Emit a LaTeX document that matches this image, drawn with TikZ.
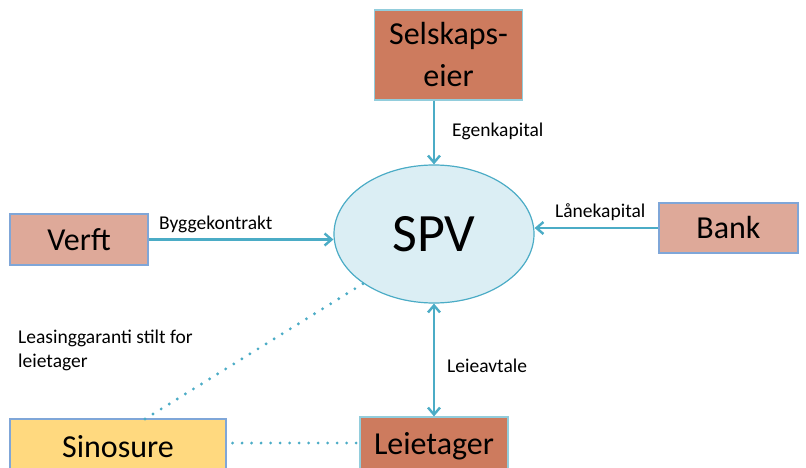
\documentclass[tikz,border=0pt]{standalone}
\usepackage{fontspec}
\setmainfont{Carlito}
\usetikzlibrary{arrows.meta,shapes.geometric}
\definecolor{terra}{HTML}{CD7B5E}
\definecolor{pinkb}{HTML}{DEA999}
\definecolor{yel}{HTML}{FFD97F}
\definecolor{lblue}{HTML}{92CDDC}
\definecolor{bblue}{HTML}{7FA6D8}
\definecolor{efill}{HTML}{DBEEF4}
\definecolor{teal}{HTML}{4BACC6}
\tikzset{
  boxA/.style={draw=lblue, line width=1.2pt, fill=terra, inner sep=0pt, font=\fontsize{32}{42}\selectfont, align=center},
  boxB/.style={draw=bblue, line width=1.2pt, fill=pinkb, inner sep=0pt, font=\fontsize{32}{38}\selectfont},
  boxC/.style={draw=bblue, line width=1.2pt, fill=yel, inner sep=0pt, font=\fontsize{32}{38}\selectfont},
  conn/.style={draw=teal, line width=2.4pt, -{Straight Barb[length=7pt,width=12pt,line width=2.4pt]}},
  dconn/.style={draw=teal, line width=2.4pt, {Straight Barb[length=7pt,width=12pt,line width=2.4pt]}-{Straight Barb[length=7pt,width=12pt,line width=2.4pt]}},
  dots/.style={draw=teal, line width=3.2pt, line cap=round, dash pattern=on 0pt off 9.5pt},
  lbl/.style={font=\fontsize{19.5}{24}\selectfont, inner sep=0pt, anchor=west, align=left}
}
\begin{document}
\begin{tikzpicture}[x=1pt,y=-1pt]
\clip (0,0) rectangle (806,468);
\fill[white] (0,0) rectangle (806,468);
\node[boxA, minimum width=148pt, minimum height=90pt] (sel) at (448.5,55) {Selskaps-\\eier};
\node[draw=teal, line width=1.2pt, fill=efill, ellipse, minimum width=200pt, minimum height=138pt, inner sep=0pt, font=\fontsize{54}{60}\selectfont] (spv) at (434,234) {SPV};
\node[boxB, minimum width=138pt, minimum height=51pt] (verft) at (79,239.5) {Verft};
\node[boxB, minimum width=139pt, minimum height=50pt] (bank) at (728.5,228) {Bank};
\node[boxC, minimum width=216pt, minimum height=56pt] (sino) at (118,447) {Sinosure};
\node[boxA, minimum width=148pt, minimum height=58pt] (leie) at (434,446) {Leietager};
\coordinate (sinotop) at (145,419);
\draw[conn] (sel.south -| spv.center) -- (spv.north);
\draw[conn] (verft.east) -- (verft.east -| spv.west);
\draw[conn] (bank.west) -- (bank.west -| spv.east);
\draw[dconn] (spv.south) -- (leie.north -| spv.south);
\draw[dots] (sinotop) -- (spv.215);
\draw[dots] (sino.east) ++(6,-4) coordinate (se) (se) -- (leie.west |- se);
\node[lbl] (l1) at (452,131) {Egenkapital};
\node[lbl] (l2) at (159,224) {Byggekontrakt};
\node[lbl] (l3) at (555,212) {Lånekapital};
\node[lbl] (l4) at (447,366) {Leieavtale};
\node[lbl] (l5) at (18,350) {Leasinggaranti stilt for\\leietager};
\end{tikzpicture}
\end{document}
